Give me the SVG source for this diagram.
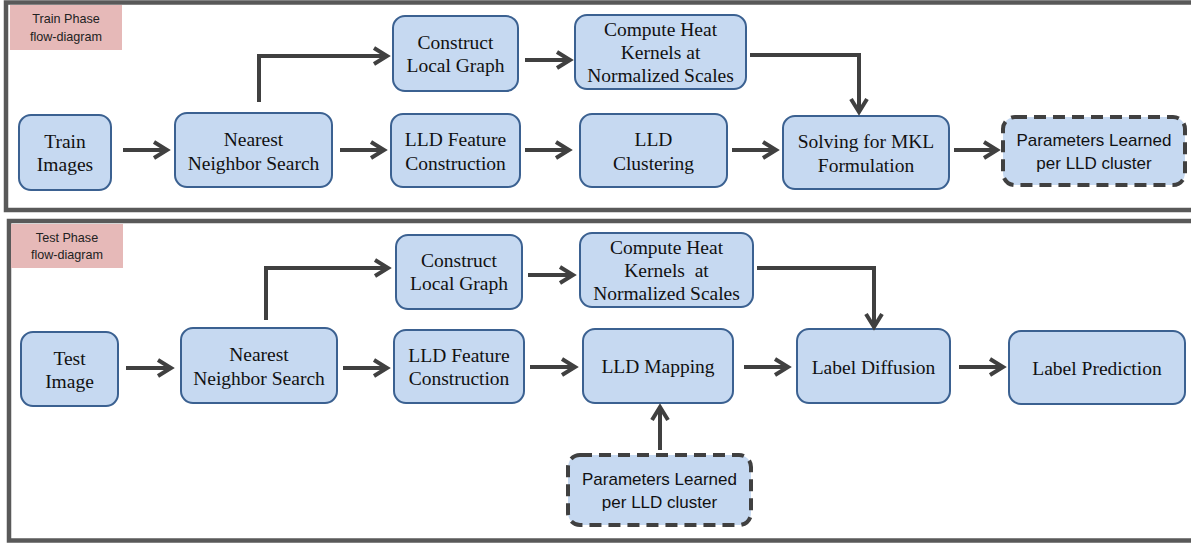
<svg xmlns="http://www.w3.org/2000/svg" width="1191" height="544" viewBox="0 0 1191 544">
  <style>
    .frame { fill: #ffffff; stroke: #595959; stroke-width: 4.5; }
    .phase { fill: #e6b9b8; }
    .phase-text { font-family: "Liberation Sans", Arial, sans-serif; font-size: 12.6px; fill: #222; text-anchor: middle; }
    .box { fill: #c6d9f1; stroke: #3b6191; stroke-width: 2; }
    .dbox { fill: #c6d9f1; stroke: #404040; stroke-width: 4; stroke-dasharray: 12 7; }
    .t { font-family: "Liberation Serif", "Times New Roman", serif; font-size: 19.5px; fill: #111; text-anchor: middle; white-space: pre; }
    .s { font-family: "Liberation Sans", Arial, sans-serif; font-size: 17px; fill: #111; text-anchor: middle; }
    .conn { fill: none; stroke: #404040; stroke-width: 4; stroke-linejoin: miter; marker-end: url(#arrow); }
  </style>
  <defs>
    <marker id="arrow" viewBox="0 0 20 20" markerWidth="20" markerHeight="20" markerUnits="userSpaceOnUse" refX="16" refY="10" orient="auto">
      <path d="M3,2 L16,10 L3,18" fill="none" stroke="#404040" stroke-width="4"/>
    </marker>
  </defs>

  <rect width="1191" height="544" fill="#ffffff"/>

  <!-- Train phase panel -->
  <g id="train-panel">
    <rect class="frame" x="6" y="2.5" width="1200" height="207.5"/>
    <rect class="phase" x="10" y="5" width="112" height="45"/>
    <text class="phase-text" x="66" y="23">Train Phase</text>
    <text class="phase-text" x="66" y="41">flow-diagram</text>
  </g>

  <!-- Test phase panel -->
  <g id="test-panel">
    <rect class="frame" x="9" y="221" width="1200" height="319.5"/>
    <rect class="phase" x="11" y="224" width="112" height="44"/>
    <text class="phase-text" x="67" y="242">Test Phase</text>
    <text class="phase-text" x="67" y="259">flow-diagram</text>
  </g>

  <!-- Train nodes -->
  <g id="train-images">
    <rect class="box" x="19" y="115" width="92" height="75" rx="12"/>
    <text class="t" x="65" y="148">Train</text>
    <text class="t" x="65" y="171">Images</text>
  </g>
  <g id="train-nn-search">
    <rect class="box" x="175" y="113" width="157" height="74" rx="12"/>
    <text class="t" x="253.5" y="146">Nearest</text>
    <text class="t" x="253.5" y="170">Neighbor Search</text>
  </g>
  <g id="train-local-graph">
    <rect class="box" x="393" y="16" width="125" height="75" rx="12"/>
    <text class="t" x="455.5" y="49">Construct</text>
    <text class="t" x="455.5" y="72">Local Graph</text>
  </g>
  <g id="train-heat-kernels">
    <rect class="box" x="575" y="15" width="171" height="74" rx="12"/>
    <text class="t" x="660.5" y="36">Compute Heat</text>
    <text class="t" x="660.5" y="59">Kernels at</text>
    <text class="t" x="660.5" y="82">Normalized Scales</text>
  </g>
  <g id="train-lld-feature">
    <rect class="box" x="391" y="114" width="129" height="73" rx="12"/>
    <text class="t" x="455.5" y="146">LLD Feature</text>
    <text class="t" x="455.5" y="170">Construction</text>
  </g>
  <g id="train-lld-clustering">
    <rect class="box" x="580" y="114" width="147" height="73" rx="12"/>
    <text class="t" x="653.5" y="146">LLD</text>
    <text class="t" x="653.5" y="170">Clustering</text>
  </g>
  <g id="train-mkl">
    <rect class="box" x="783" y="116" width="166" height="73" rx="12"/>
    <text class="t" x="866" y="148">Solving for MKL</text>
    <text class="t" x="866" y="172">Formulation</text>
  </g>
  <g id="train-parameters">
    <rect class="dbox" x="1003" y="117" width="182" height="68" rx="12"/>
    <text class="s" x="1094" y="146">Parameters Learned</text>
    <text class="s" x="1094" y="169">per LLD cluster</text>
  </g>

  <!-- Test nodes -->
  <g id="test-image">
    <rect class="box" x="21" y="332" width="97" height="74" rx="12"/>
    <text class="t" x="69.5" y="365">Test</text>
    <text class="t" x="69.5" y="388">Image</text>
  </g>
  <g id="test-nn-search">
    <rect class="box" x="181" y="328" width="156" height="75" rx="12"/>
    <text class="t" x="259" y="361">Nearest</text>
    <text class="t" x="259" y="385">Neighbor Search</text>
  </g>
  <g id="test-local-graph">
    <rect class="box" x="396" y="235" width="126" height="74" rx="12"/>
    <text class="t" x="459" y="267">Construct</text>
    <text class="t" x="459" y="290">Local Graph</text>
  </g>
  <g id="test-heat-kernels">
    <rect class="box" x="580" y="233" width="173" height="74" rx="12"/>
    <text class="t" x="666.5" y="254">Compute Heat</text>
    <text class="t" x="666.5" y="277">Kernels  at</text>
    <text class="t" x="666.5" y="300">Normalized Scales</text>
  </g>
  <g id="test-lld-feature">
    <rect class="box" x="394" y="330" width="130" height="73" rx="12"/>
    <text class="t" x="459" y="362">LLD Feature</text>
    <text class="t" x="459" y="385">Construction</text>
  </g>
  <g id="test-lld-mapping">
    <rect class="box" x="583" y="329" width="150" height="74" rx="12"/>
    <text class="t" x="658" y="373">LLD Mapping</text>
  </g>
  <g id="test-label-diffusion">
    <rect class="box" x="797" y="329" width="153" height="74" rx="12"/>
    <text class="t" x="873.5" y="374">Label Diffusion</text>
  </g>
  <g id="test-label-prediction">
    <rect class="box" x="1009" y="331" width="176" height="73" rx="12"/>
    <text class="t" x="1097" y="375">Label Prediction</text>
  </g>
  <g id="test-parameters">
    <rect class="dbox" x="568" y="455" width="183" height="70" rx="12"/>
    <text class="s" x="659.5" y="485">Parameters Learned</text>
    <text class="s" x="659.5" y="508">per LLD cluster</text>
  </g>

  <!-- Connectors -->
  <g id="connectors">
    <path class="conn" d="M123,150 H167"/>
    <path class="conn" d="M259,102 V56 H387"/>
    <path class="conn" d="M340,150 H384"/>
    <path class="conn" d="M525,60 H570"/>
    <path class="conn" d="M525,150 H569"/>
    <path class="conn" d="M750,55 H859 V112"/>
    <path class="conn" d="M732,150 H776"/>
    <path class="conn" d="M954,150 H997"/>

    <path class="conn" d="M126,368 H171"/>
    <path class="conn" d="M266,320 V268 H388"/>
    <path class="conn" d="M343,368 H387"/>
    <path class="conn" d="M528,275 H573"/>
    <path class="conn" d="M530,367 H575"/>
    <path class="conn" d="M757,268 H874 V327"/>
    <path class="conn" d="M744,367 H788"/>
    <path class="conn" d="M959,367 H1003"/>
    <path class="conn" d="M660,450 V407"/>
  </g>
</svg>
